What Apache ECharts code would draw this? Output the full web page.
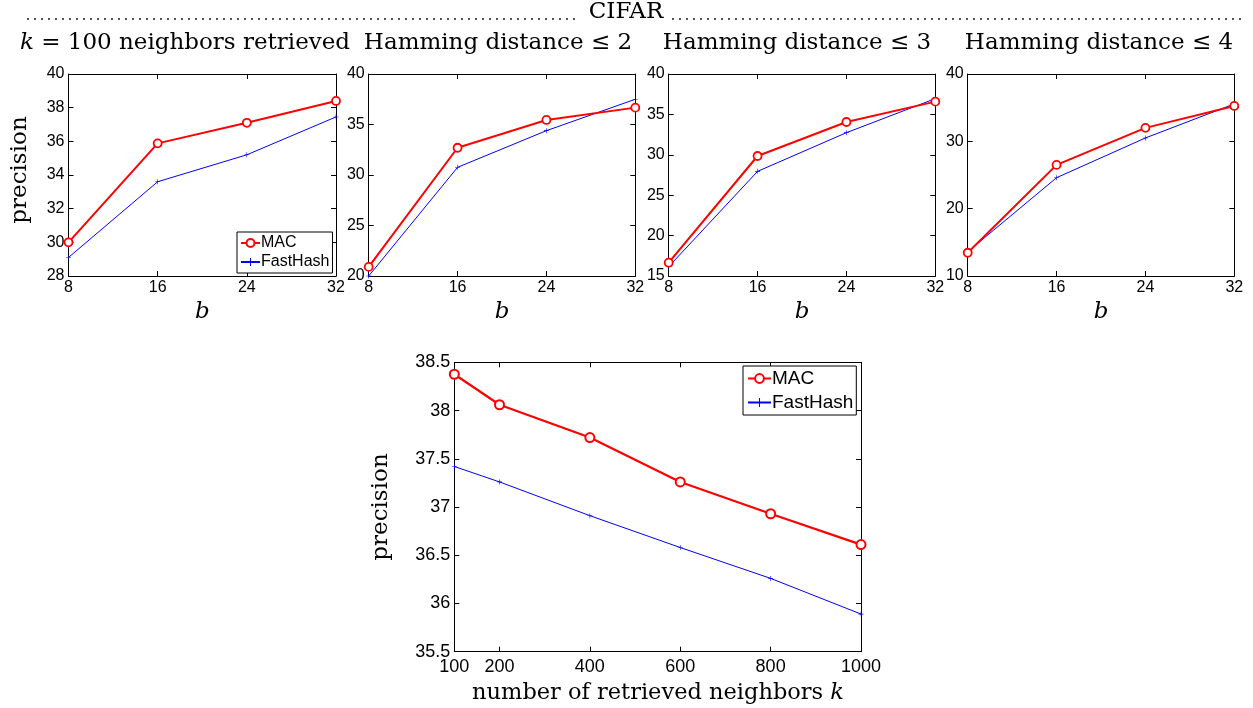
<!DOCTYPE html>
<html><head><meta charset="utf-8">
<script src="https://cdn.jsdelivr.net/npm/echarts@6/dist/echarts.min.js"></script>
<style>html,body{margin:0;padding:0;background:#fff}#c{width:1253px;height:708px}</style>
</head><body><div id="c"></div>
<script>
// ---- data ----
const bValues = [8, 16, 24, 32];
const macK100 = [30.0, 35.88, 37.1, 38.4];
const fhK100 = [29.1, 33.6, 35.2, 37.45];
const macH2 = [20.9, 32.7, 35.45, 36.67];
const fhH2 = [20.0, 30.76, 34.39, 37.5];
const macH3 = [16.65, 29.85, 34.06, 36.58];
const fhH3 = [16.16, 27.95, 32.74, 36.95];
const macH4 = [13.45, 26.5, 32.0, 35.26];
const fhH4 = [13.6, 24.6, 30.5, 35.56];
const kValues = [100, 200, 400, 600, 800, 1000];
const macK = [38.376, 38.06, 37.72, 37.26, 36.93, 36.61];
const fhK = [37.42, 37.26, 36.91, 36.58, 36.26, 35.89];
const kTicks = [100, 200, 400, 600, 800, 1000];
const panelTitles = ['k = 100 neighbors retrieved', 'Hamming distance \u2264 2', 'Hamming distance \u2264 3', 'Hamming distance \u2264 4'];

const SERIF = '"DejaVu Serif", "Liberation Serif", serif';
const SANS = '"Liberation Sans", Arial, sans-serif';
const RED = '#ff0000', BLUE = '#0000ff';
const PLUS = 'path://M0,4.4h10v1.2h-10z M4.4,0h1.2v10h-1.2z';

const pair = (xs, ys) => xs.map((x, i) => [x, ys[i]]);

const topGrids = [
  {left: 68.5, top: 74, width: 267.5, height: 202, min: 28, max: 40, interval: 2, mac: macK100, fh: fhK100},
  {left: 368.7, top: 74, width: 266.6, height: 202, min: 20, max: 40, interval: 5, mac: macH2, fh: fhH2},
  {left: 668.7, top: 74, width: 266.6, height: 202, min: 15, max: 40, interval: 5, mac: macH3, fh: fhH3},
  {left: 967.7, top: 74, width: 266.6, height: 202, min: 10, max: 40, interval: 10, mac: macH4, fh: fhH4}
];
const bottomGrid = {left: 454.3, top: 362.3, width: 406.7, height: 289.4};

const grid = [], xAxis = [], yAxis = [], series = [];
const axBase = (fs, m) => ({
  axisLine: {show: true, onZero: false, lineStyle: {color: '#000', width: 1}},
  axisTick: {show: true, inside: true, length: 5, lineStyle: {color: '#000'}},
  splitLine: {show: false},
  axisLabel: {color: '#000', fontFamily: SANS, fontSize: fs, margin: m == null ? 4 : m, formatter: (v) => String(v)}
});

topGrids.forEach((g, i) => {
  grid.push({left: g.left, top: g.top, width: g.width, height: g.height, containLabel: false});
  xAxis.push(Object.assign(axBase(16), {type: 'value', gridIndex: i, min: 8, max: 32, interval: 8, position: 'bottom'}));
  xAxis.push(Object.assign(axBase(16), {type: 'value', gridIndex: i, min: 8, max: 32, interval: 8, position: 'top', axisLabel: {show: false}}));
  yAxis.push(Object.assign(axBase(16), {type: 'value', gridIndex: i, min: g.min, max: g.max, interval: g.interval, position: 'left'}));
  yAxis.push(Object.assign(axBase(16), {type: 'value', gridIndex: i, min: g.min, max: g.max, interval: g.interval, position: 'right', axisLabel: {show: false}}));
  series.push({name: 'MAC', type: 'line', xAxisIndex: i * 2, yAxisIndex: i * 2, data: pair(bValues, g.mac),
    symbol: 'circle', symbolSize: 8, showSymbol: true, itemStyle: {color: '#fff', borderColor: RED, borderWidth: 1.8},
    lineStyle: {color: RED, width: 2}, emphasis: {disabled: true}, animation: false, z: 3});
  series.push({name: 'FastHash', type: 'line', xAxisIndex: i * 2, yAxisIndex: i * 2, data: pair(bValues, g.fh),
    symbol: PLUS, symbolSize: 5, itemStyle: {color: BLUE}, lineStyle: {color: BLUE, width: 1},
    emphasis: {disabled: true}, animation: false, z: 2});
});

const bi = topGrids.length;
grid.push({left: bottomGrid.left, top: bottomGrid.top, width: bottomGrid.width, height: bottomGrid.height});
const bx = Object.assign(axBase(18, 6), {type: 'value', gridIndex: bi, min: 100, max: 1000, interval: 100, position: 'bottom'});
bx.axisTick.customValues = kTicks; bx.axisLabel.customValues = kTicks;
const bxTop = Object.assign(axBase(18), {type: 'value', gridIndex: bi, min: 100, max: 1000, interval: 100, position: 'top'});
bxTop.axisTick.customValues = kTicks; bxTop.axisLabel.show = false;
xAxis.push(bx, bxTop);
yAxis.push(Object.assign(axBase(18), {type: 'value', gridIndex: bi, min: 35.5, max: 38.5, interval: 0.5, position: 'left'}));
yAxis.push(Object.assign(axBase(18), {type: 'value', gridIndex: bi, min: 35.5, max: 38.5, interval: 0.5, position: 'right', axisLabel: {show: false}}));
series.push({name: 'MAC', type: 'line', xAxisIndex: bi * 2, yAxisIndex: bi * 2, data: pair(kValues, macK),
  symbol: 'circle', symbolSize: 9, itemStyle: {color: '#fff', borderColor: RED, borderWidth: 2},
  lineStyle: {color: RED, width: 2.2}, emphasis: {disabled: true}, animation: false, z: 3});
series.push({name: 'FastHash', type: 'line', xAxisIndex: bi * 2, yAxisIndex: bi * 2, data: pair(kValues, fhK),
  symbol: PLUS, symbolSize: 5, itemStyle: {color: BLUE}, lineStyle: {color: BLUE, width: 1},
  emphasis: {disabled: true}, animation: false, z: 2});

const graphic = [];
graphic.push({type: 'line', shape: {x1: 28, y1: 19, x2: 580, y2: 19}, style: {stroke: '#000', lineWidth: 1.8, lineDash: [0, 7], lineCap: 'round'}, silent: true});
graphic.push({type: 'line', shape: {x1: 673, y1: 19, x2: 1246, y2: 19}, style: {stroke: '#000', lineWidth: 1.8, lineDash: [0, 7], lineCap: 'round'}, silent: true});
graphic.push({type: 'text', x: 626, y: 12, style: {text: 'CIFAR', fill: '#000', font: '23px ' + SERIF, textAlign: 'center', textVerticalAlign: 'middle'}, silent: true});

const titleCenters = [185, 498, 797, 1099];
panelTitles.forEach((t, i) => {
  const txt = t.startsWith('k ') ? '{i|k} = ' + t.slice(4) : t;
  graphic.push({type: 'text', x: titleCenters[i], y: 43, silent: true,
    style: {text: txt, fill: '#000', font: '23px ' + SERIF, textAlign: 'center', textVerticalAlign: 'middle',
      rich: {i: {fontStyle: 'italic', fontFamily: SERIF, fontSize: 23}}}});
});
topGrids.forEach((g) => {
  graphic.push({type: 'text', x: g.left + g.width / 2, y: 312, silent: true,
    style: {text: 'b', fill: '#000', font: 'italic 23px ' + SERIF, textAlign: 'center', textVerticalAlign: 'middle'}});
});
graphic.push({type: 'text', x: 20, y: 170, rotation: Math.PI / 2, silent: true,
  style: {text: 'precision', fill: '#000', font: '23px ' + SERIF, textAlign: 'center', textVerticalAlign: 'middle'}});
graphic.push({type: 'text', x: 381, y: 507, rotation: Math.PI / 2, silent: true,
  style: {text: 'precision', fill: '#000', font: '23px ' + SERIF, textAlign: 'center', textVerticalAlign: 'middle'}});
graphic.push({type: 'text', x: 658, y: 693, silent: true,
  style: {text: 'number of retrieved neighbors {i|k}', fill: '#000', font: '22.5px ' + SERIF, textAlign: 'center', textVerticalAlign: 'middle',
    rich: {i: {fontStyle: 'italic', fontFamily: SERIF, fontSize: 22.5}}}});

const legendBase = {
  orient: 'vertical', backgroundColor: '#fff', borderColor: '#000', borderWidth: 1, borderRadius: 0,
  selectedMode: false, data: ['MAC', 'FastHash']
};
const legend = [
  Object.assign({}, legendBase, {left: 237, top: 232, padding: [3, 3, 3, 3], itemGap: 3, itemWidth: 19, itemHeight: 10,
    textStyle: {fontFamily: SANS, fontSize: 16, color: '#000', padding: [0, 0, 0, -4]}}),
  Object.assign({}, legendBase, {left: 743, top: 366, padding: [3, 3, 3, 4], itemGap: 5, itemWidth: 23, itemHeight: 11,
    textStyle: {fontFamily: SANS, fontSize: 19, color: '#000', padding: [0, 0, 0, -4]}})
];

const chart = echarts.init(document.getElementById('c'), null, {renderer: 'canvas'});
chart.setOption({animation: false, backgroundColor: '#fff', grid, xAxis, yAxis, series, graphic, legend});
</script></body></html>
